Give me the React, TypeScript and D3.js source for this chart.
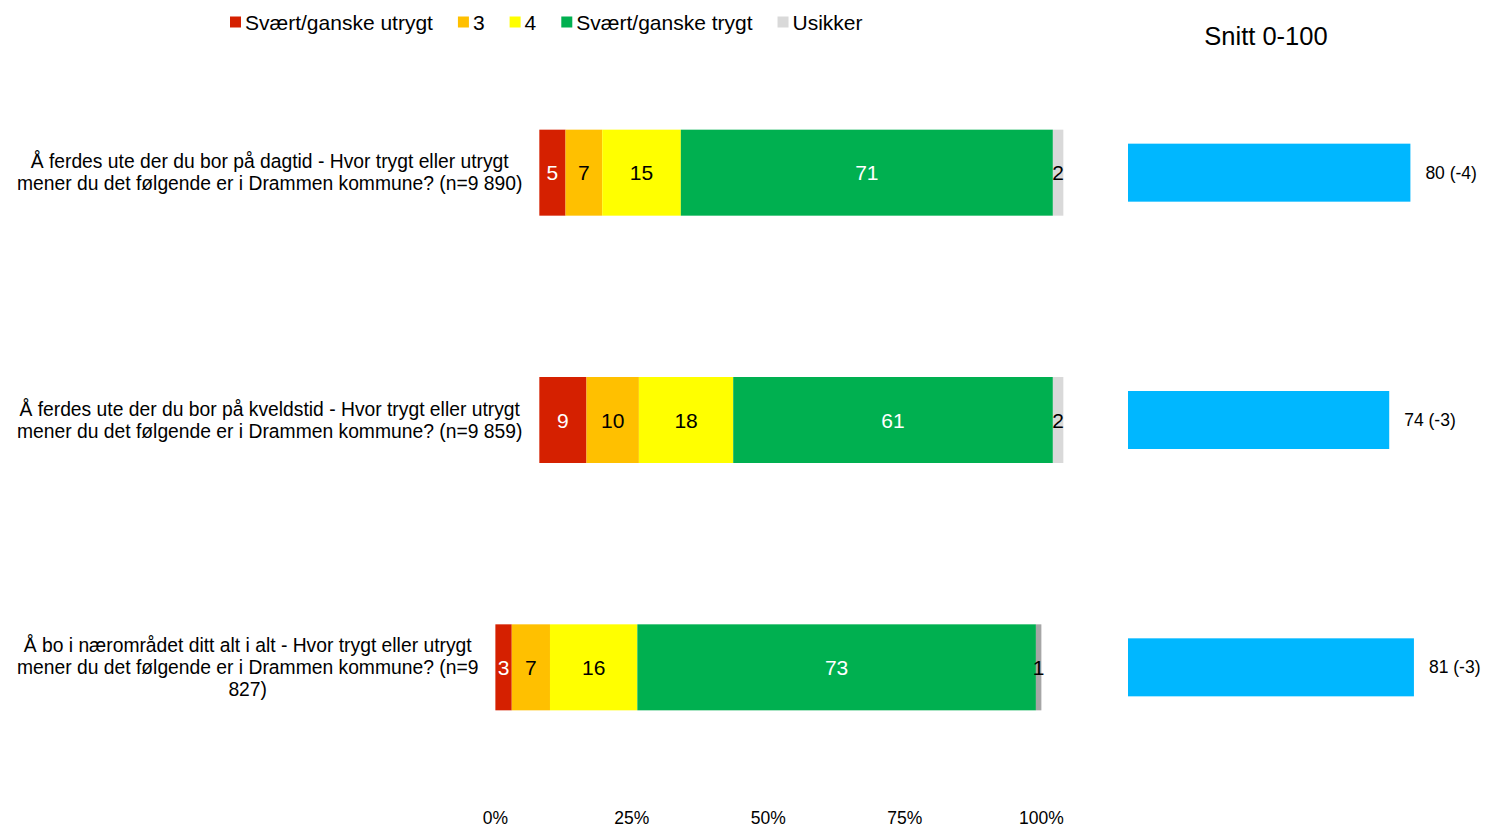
import React, { useEffect, useRef } from "react";
import * as d3 from "d3";

// ---------- DATA ----------
const categories = ["Svært/ganske utrygt", "3", "4", "Svært/ganske trygt", "Usikker"];

const questionLines: string[][] = [
  ["Å ferdes ute der du bor på dagtid - Hvor trygt eller utrygt", "mener du det følgende er i Drammen kommune? (n=9 890)"],
  ["Å ferdes ute der du bor på kveldstid - Hvor trygt eller utrygt", "mener du det følgende er i Drammen kommune? (n=9 859)"],
  ["Å bo i nærområdet ditt alt i alt - Hvor trygt eller utrygt", "mener du det følgende er i Drammen kommune? (n=9", "827)"],
];

const valuesRow1 = [5, 7, 15, 71, 2];
const valuesRow2 = [9, 10, 18, 61, 2];
const valuesRow3 = [3, 7, 16, 73, 1];
const rowValues = [valuesRow1, valuesRow2, valuesRow3];

const snittValues = [80, 74, 81];
const snittChange = [-4, -3, -3];

const axisTicks = [0, 25, 50, 75, 100];
const snittTitle = "Snitt 0-100";

// ---------- STYLE ----------
const W = 1486;
const H = 827;
const FONT = "'Liberation Sans', Arial, Helvetica, sans-serif";
const catColors = ["#D52000", "#FFC000", "#FFFF00", "#00B050", "#D9D9D9"];
const catTextColors = ["#ffffff", "#000000", "#000000", "#ffffff", "#000000"];
const lastSegColorRow3 = "#A6A6A6";
const blue = "#00B7FF";

export default function App() {
  const ref = useRef<SVGSVGElement | null>(null);

  useEffect(() => {
    const svg = d3.select(ref.current);
    svg.selectAll("*").remove();

    // vertical layout
    const rowIdx = questionLines.map((_, i) => i);
    const y = d3.scaleBand<number>().domain(rowIdx).range([49, 791]);
    const barH = 86;
    const blueH = 58;

    // ---- labels: measure to place bars ----
    const labelLeft = 17;
    const labelFs = 19.3;
    const lineH = 22;
    const labelG = svg.append("g");
    const labelWidths: number[] = [];
    questionLines.forEach((lines, i) => {
      const g = labelG.append("g");
      const cy = y(i)! + y.bandwidth() / 2;
      const texts = g
        .selectAll("text")
        .data(lines)
        .join("text")
        .attr("font-family", FONT)
        .attr("font-size", labelFs)
        .attr("fill", "#000")
        .attr("text-anchor", "middle")
        .attr("dominant-baseline", "central")
        .attr("y", (_, k) => cy + (k - (lines.length - 1) / 2) * lineH)
        .text((d) => d);
      let maxW = 0;
      texts.each(function () {
        maxW = Math.max(maxW, (this as SVGTextElement).getComputedTextLength());
      });
      labelWidths.push(maxW);
      texts.attr("x", labelLeft + maxW / 2);
    });

    const barStarts = labelWidths.map((w) => labelLeft + w + 17);
    const axisStart = d3.min(barStarts)!;
    const axisEnd = axisStart + 546;
    const xAxis = d3.scaleLinear().domain([0, 100]).range([axisStart, axisEnd]);

    // ---- stacked bars ----
    rowValues.forEach((vals, i) => {
      const start = barStarts[i];
      const end = axisEnd + (start - axisStart) * 0.5;
      const x = d3.scaleLinear().domain([0, d3.sum(vals)]).range([start, end]);
      const cum = d3.cumsum(vals);
      const segs = vals.map((v, k) => ({ v, k, x0: cum[k] - v, x1: cum[k] }));
      const cy = y(i)! + y.bandwidth() / 2;
      const g = svg.append("g");
      g.selectAll("rect")
        .data(segs)
        .join("rect")
        .attr("x", (d) => x(d.x0))
        .attr("width", (d) => x(d.x1) - x(d.x0))
        .attr("y", cy - barH / 2)
        .attr("height", barH)
        .attr("fill", (d) => (i === 2 && d.k === 4 ? lastSegColorRow3 : catColors[d.k]));
      g.selectAll("text")
        .data(segs)
        .join("text")
        .attr("x", (d) => (x(d.x0) + x(d.x1)) / 2)
        .attr("y", cy)
        .attr("dominant-baseline", "central")
        .attr("text-anchor", "middle")
        .attr("font-family", FONT)
        .attr("font-size", 21)
        .attr("fill", (d) => catTextColors[d.k])
        .text((d) => d.v);
    });

    // ---- bottom axis labels ----
    svg
      .append("g")
      .selectAll("text")
      .data(axisTicks)
      .join("text")
      .attr("x", (d) => xAxis(d))
      .attr("y", 818)
      .attr("dominant-baseline", "central")
      .attr("text-anchor", "middle")
      .attr("font-family", FONT)
      .attr("font-size", 17.5)
      .attr("fill", "#000")
      .text((d) => d + "%");

    // ---- legend ----
    const legend = svg.append("g");
    let lx = 230;
    const ly = 22;
    categories.forEach((c, k) => {
      legend
        .append("rect")
        .attr("x", lx)
        .attr("y", ly - 5.5)
        .attr("width", 11)
        .attr("height", 11)
        .attr("fill", catColors[k]);
      const t = legend
        .append("text")
        .attr("x", lx + 15)
        .attr("y", ly)
        .attr("dominant-baseline", "central")
        .attr("font-family", FONT)
        .attr("font-size", 21)
        .attr("fill", "#000")
        .text(c);
      const tw = (t.node() as SVGTextElement).getComputedTextLength();
      lx = lx + 15 + tw + 25;
    });

    // ---- snitt panel ----
    const xs = d3.scaleLinear().domain([0, 100]).range([1128, 1481]);
    svg
      .append("text")
      .attr("x", 1266)
      .attr("y", 36)
      .attr("dominant-baseline", "central")
      .attr("text-anchor", "middle")
      .attr("font-family", FONT)
      .attr("font-size", 25.5)
      .attr("fill", "#000")
      .text(snittTitle);
    const sg = svg.append("g");
    sg.selectAll("rect")
      .data(snittValues)
      .join("rect")
      .attr("x", xs(0))
      .attr("width", (d) => xs(d) - xs(0))
      .attr("y", (_, i) => y(i)! + y.bandwidth() / 2 - blueH / 2)
      .attr("height", blueH)
      .attr("fill", blue);
    sg.selectAll("text")
      .data(snittValues)
      .join("text")
      .attr("x", (d) => xs(d) + 15)
      .attr("y", (_, i) => y(i)! + y.bandwidth() / 2)
      .attr("dominant-baseline", "central")
      .attr("font-family", FONT)
      .attr("font-size", 17.5)
      .attr("fill", "#000")
      .text((d, i) => `${d} (${snittChange[i]})`);
  }, []);

  return (
    <svg
      ref={ref}
      width={W}
      height={H}
      style={{ display: "block", position: "absolute", left: 0, top: 0, background: "#fff" }}
    />
  );
}
